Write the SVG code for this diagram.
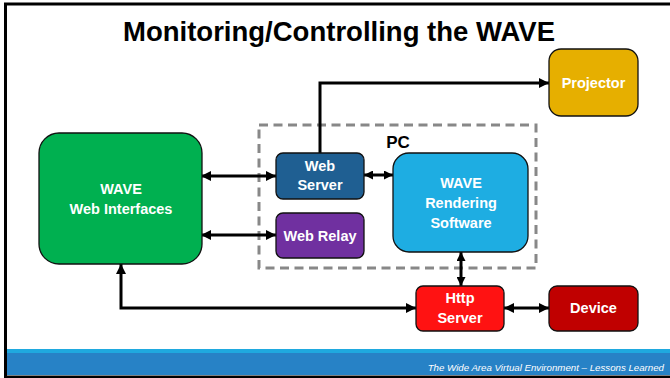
<svg xmlns="http://www.w3.org/2000/svg" width="670" height="378" viewBox="0 0 670 378">
<defs>
<style>
.node{stroke:#111;stroke-width:1.3}
.lbl{font-family:"Liberation Sans",Arial,sans-serif;font-weight:bold;font-size:14.5px;fill:#fff;text-anchor:middle}
.conn{fill:none;stroke:#000;stroke-width:3}
</style>
<marker id="ah" viewBox="0 0 10 10" refX="10" refY="5" markerWidth="10" markerHeight="10" markerUnits="userSpaceOnUse" orient="auto-start-reverse">
<path d="M0,0 L10,5 L0,10 z" fill="#000"/>
</marker>
<marker id="ahs" viewBox="0 0 10 10" refX="10" refY="5" markerWidth="9" markerHeight="9" markerUnits="userSpaceOnUse" orient="auto-start-reverse">
<path d="M0,0 L10,5 L0,10 z" fill="#000"/>
</marker>
</defs>
<rect x="0" y="0" width="670" height="378" fill="#fff"/>
<rect x="5.5" y="4" width="666" height="373" fill="none" stroke="#000" stroke-width="3"/>
<rect x="7" y="349" width="663" height="4" fill="#1FA9DF"/>
<rect x="7" y="353" width="663" height="22" fill="#2782C6"/>
<text x="664" y="370.5" text-anchor="end" font-family="Liberation Sans, Arial, sans-serif" font-style="italic" font-size="9.7" fill="#fff">The Wide Area Virtual Environment – Lessons Learned</text>
<text x="339" y="41" text-anchor="middle" textLength="432" lengthAdjust="spacingAndGlyphs" font-family="Liberation Sans, Arial, sans-serif" font-weight="bold" font-size="28" fill="#000">Monitoring/Controlling the WAVE</text>

<g id="pc">
<rect x="259" y="125" width="277" height="143" fill="none" stroke="#888" stroke-width="3" stroke-dasharray="9 5.5"/>
<text x="398" y="148" text-anchor="middle" font-family="Liberation Sans, Arial, sans-serif" font-weight="bold" font-size="17" fill="#000">PC</text>
</g>

<g id="connectors">
<path class="conn" d="M320,153 V83 H549" marker-end="url(#ah)"/>
<path class="conn" d="M201,176 H276" marker-start="url(#ah)" marker-end="url(#ah)"/>
<path class="conn" d="M201,235 H276" marker-start="url(#ah)" marker-end="url(#ah)"/>
<path class="conn" d="M364,175 H393" marker-start="url(#ahs)" marker-end="url(#ahs)"/>
<path class="conn" d="M461,252 V286" marker-start="url(#ahs)" marker-end="url(#ahs)"/>
<path class="conn" d="M504,308 H549" marker-start="url(#ah)" marker-end="url(#ah)"/>
<path class="conn" d="M121,264 V308 H416" marker-start="url(#ah)" marker-end="url(#ah)"/>
</g>

<g id="projector">
<rect class="node" x="549" y="49" width="89" height="67" rx="12" fill="#E6AF00"/>
<text class="lbl" x="593.5" y="88">Projector</text>
</g>
<g id="web-interfaces">
<rect class="node" x="39" y="133" width="163" height="131" rx="20" fill="#00B050"/>
<text class="lbl" x="121" y="194">WAVE</text>
<text class="lbl" x="121" y="214">Web Interfaces</text>
</g>
<g id="web-server">
<rect class="node" x="276" y="153" width="88" height="46" rx="7" fill="#1F5F92"/>
<text class="lbl" x="320" y="171">Web</text>
<text class="lbl" x="320" y="190">Server</text>
</g>
<g id="web-relay">
<rect class="node" x="276" y="213" width="88" height="45" rx="7" fill="#7030A0"/>
<text class="lbl" x="320" y="241">Web Relay</text>
</g>
<g id="rendering">
<rect class="node" x="393" y="153" width="135" height="99" rx="16" fill="#1EADE2"/>
<text class="lbl" x="461" y="188">WAVE</text>
<text class="lbl" x="461" y="208">Rendering</text>
<text class="lbl" x="461" y="228">Software</text>
</g>
<g id="http-server">
<rect class="node" x="416" y="286" width="88" height="45" rx="7" fill="#FF1212"/>
<text class="lbl" x="460" y="303">Http</text>
<text class="lbl" x="460" y="323">Server</text>
</g>
<g id="device">
<rect class="node" x="549" y="286" width="89" height="45" rx="8" fill="#C00000"/>
<text class="lbl" x="593.5" y="313">Device</text>
</g>
</svg>
